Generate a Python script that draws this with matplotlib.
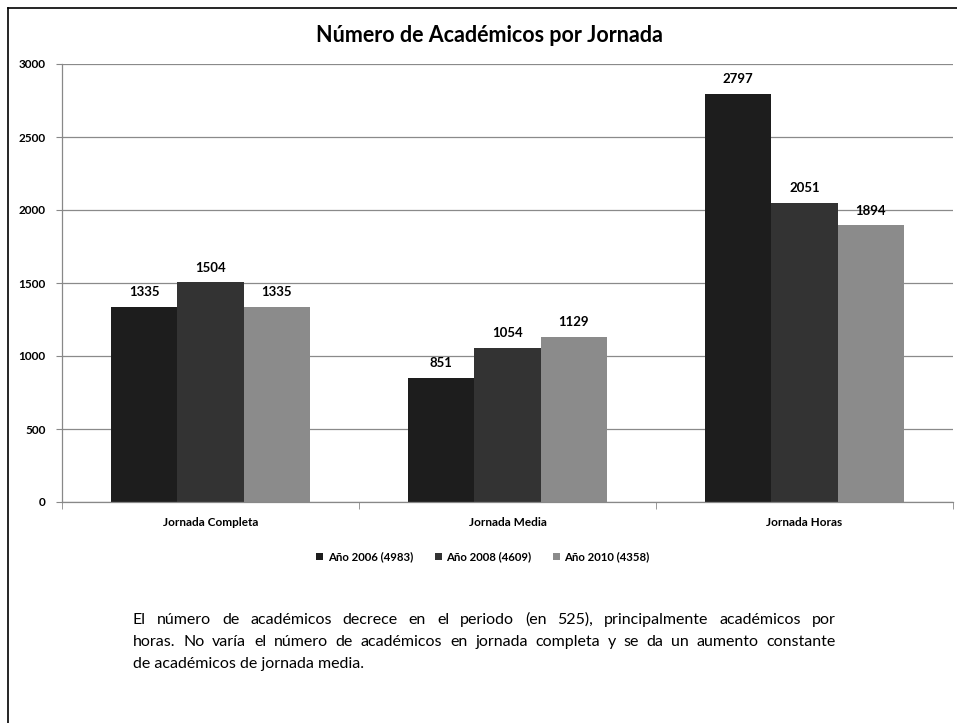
import matplotlib.pyplot as plt
import numpy as np
from matplotlib.lines import Line2D
from matplotlib.patches import Patch

plt.rcParams['font.family'] = ['Lato', 'DejaVu Sans']

# --- Datos ---
categorias = ['Jornada Completa', 'Jornada Media', 'Jornada Horas']
series = ['Año 2006 (4983)', 'Año 2008 (4609)', 'Año 2010 (4358)']
valores_2006 = [1335, 851, 2797]
valores_2008 = [1504, 1054, 2051]
valores_2010 = [1335, 1129, 1894]
colores = ['#1d1d1d', '#333333', '#8b8b8b']
titulo = 'Número de Académicos por Jornada'
comentario = [
    'El número de académicos decrece en el periodo (en 525), principalmente académicos por',
    'horas. No varía el número de académicos en jornada completa y se da un aumento constante',
    'de académicos de jornada media.',
]

W, H = 957, 723
fig = plt.figure(figsize=(W / 100, H / 100), dpi=100)
ax = fig.add_axes([62 / W, 1 - 502 / H, (953 - 62) / W, (502 - 64) / H])

x = np.arange(len(categorias))
ancho = 0.223
for i, vals in enumerate([valores_2006, valores_2008, valores_2010]):
    pos = x + (i - 1) * ancho
    ax.bar(pos, vals, width=ancho, color=colores[i], label=series[i], zorder=2)
    for px, v in zip(pos, vals):
        ax.text(px, v + 60, str(v), ha='center', va='bottom', fontsize=9.5,
                fontweight='bold', zorder=3)

ax.set_xlim(-0.5, 2.5)
ax.set_ylim(0, 3000)
ax.set_yticks(range(0, 3001, 500))
ax.yaxis.grid(True, color='#8a8a8a', linewidth=0.9, zorder=0)
ax.set_xticks(x)
ax.set_xticklabels(categorias, fontsize=8.5, fontweight='bold')
ax.set_xticks([-0.5, 0.5, 1.5, 2.5], minor=True)
ax.tick_params(axis='x', which='major', length=0, pad=11)
ax.tick_params(axis='x', which='minor', length=5, color='#888888')
ax.tick_params(axis='y', length=4, color='#888888', pad=8)
for lab in ax.get_yticklabels():
    lab.set_fontweight('bold')
    lab.set_fontsize(8.5)
for s in ['top', 'right']:
    ax.spines[s].set_visible(False)
for s in ['left', 'bottom']:
    ax.spines[s].set_color('#888888')
    ax.spines[s].set_linewidth(0.9)

fig.text(489 / W, 1 - 36 / H, titulo, ha='center', va='center',
         fontsize=15.5, fontweight='bold')

handles = [Patch(facecolor=c, edgecolor='none') for c in colores]
fig.legend(handles, series, loc='center', bbox_to_anchor=(483 / W, 1 - 557 / H),
           ncol=3, frameon=False, handlelength=0.6, handleheight=0.6,
           handletextpad=0.4, columnspacing=1.9, prop={'weight': 'bold', 'size': 8.2})

# borde del marco escaneado
fig.add_artist(Line2D([8 / W, 8 / W], [0, 1 - 8 / H], color='black', lw=1.2))
fig.add_artist(Line2D([8 / W, 1], [1 - 8 / H, 1 - 8 / H], color='black', lw=1.2))

# texto justificado
renderer = fig.canvas.get_renderer()
x0, x1 = 133, 836
ys = [620, 642, 664]
for k, linea in enumerate(comentario):
    y = 1 - ys[k] / H
    if k == len(comentario) - 1:
        fig.text(x0 / W, y, linea, ha='left', va='center', fontsize=11.5)
        continue
    palabras = linea.split(' ')
    textos = [fig.text(0, y, p, ha='left', va='center', fontsize=11.5) for p in palabras]
    anchos = [t.get_window_extent(renderer).width for t in textos]
    hueco = (x1 - x0 - sum(anchos)) / (len(palabras) - 1)
    cx = x0
    for t, a in zip(textos, anchos):
        t.set_x(cx / W)
        cx += a + hueco

fig.savefig('out.png', dpi=100)
